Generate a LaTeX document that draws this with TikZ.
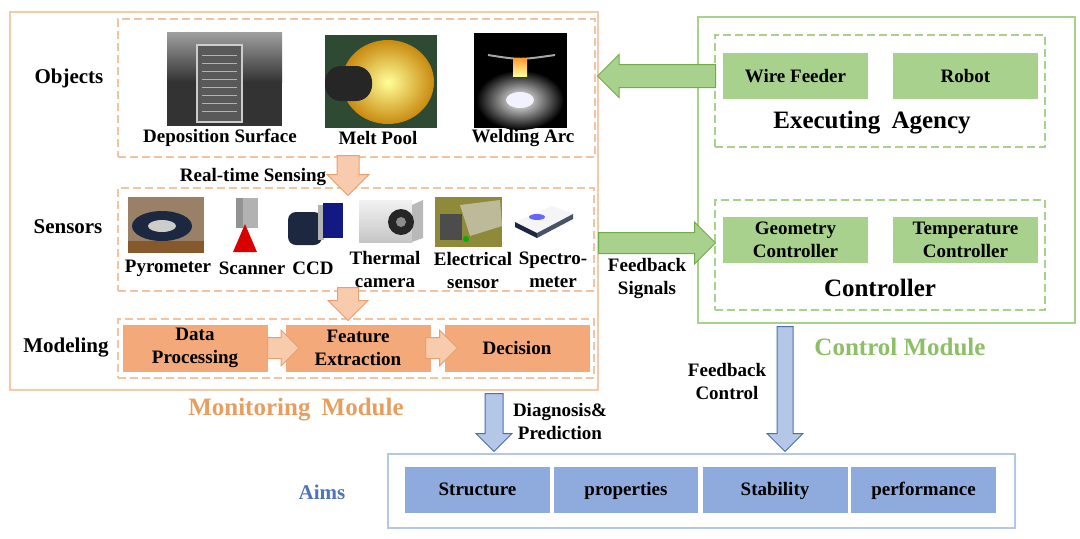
\documentclass[tikz,border=0pt]{standalone}
\usepackage{fontspec}
\setmainfont{Liberation Serif}
\usetikzlibrary{shapes.arrows, fit}
\definecolor{monline}{HTML}{F5C9AA}
\definecolor{mondash}{HTML}{F3C4A2}
\definecolor{monfill}{HTML}{F3A97A}
\definecolor{monarrow}{HTML}{F8CBAD}
\definecolor{monedge}{HTML}{E7A070}
\definecolor{montext}{HTML}{E89E5E}
\definecolor{ctlline}{HTML}{A9D18E}
\definecolor{ctlfill}{HTML}{A9D18E}
\definecolor{ctledge}{HTML}{70AD47}
\definecolor{ctltext}{HTML}{8CBF66}
\definecolor{aimline}{HTML}{B4C7E7}
\definecolor{aimfill}{HTML}{8FAADC}
\definecolor{aimedge}{HTML}{4A6FB5}
\definecolor{aimtext}{HTML}{4F74B8}
\definecolor{meltout}{HTML}{C98A10}
\definecolor{meltbg}{HTML}{2E4A33}
\definecolor{darkblue}{HTML}{1C2740}
\tikzset{
  lbl/.style={font=\fontsize{9.5}{11.5}\selectfont\bfseries, align=center, inner sep=0},
  side/.style={font=\fontsize{10.5}{12}\selectfont\bfseries, inner sep=0},
  title/.style={font=\fontsize{12.5}{14}\selectfont\bfseries, inner sep=0},
  grpbox/.style={dashed, dash pattern=on 4pt off 2pt, line width=0.8pt, inner sep=0},
  modbox/.style={draw=none, inner sep=0, fit={#1}},
  fillbox/.style={lbl, minimum width=72.5pt, minimum height=23.5pt},
  aimbox/.style={fillbox, fill=aimfill, minimum height=23pt, text height=1.6ex, text depth=0.4ex},
  blockarrow/.style={single arrow, anchor=tail, line width=0.5pt}
}

\begin{document}
\begin{tikzpicture}[x=0.5pt, y=-0.5pt]
\useasboundingbox (0,0) rectangle (1080,538);

% monitoring module
\node[modbox={(10,12) (598,390)}, draw=monline, line width=1.3pt] (monitor) {};
\node[modbox={(118,19) (595,157)}, grpbox, draw=mondash] (objects) {};
\node[modbox={(118,188) (594,291)}, grpbox, draw=mondash] (sensors) {};
\node[modbox={(118,319) (594,378)}, grpbox, draw=mondash] (modeling) {};

% control module
\node[modbox={(698,17) (1075,323)}, draw=ctlline, line width=1.3pt] (control) {};
\node[modbox={(715,35) (1045,147)}, grpbox, draw=ctlline] (exec) {};
\node[modbox={(715,200) (1045,310)}, grpbox, draw=ctlline] (ctrl) {};

% aims
\node[modbox={(388,454) (1015,528)}, draw=aimline, line width=1.3pt] (aims) {};

% object pictures
\fill[black!80] (167,32) rectangle (282,126);
\shade[top color=gray!75, bottom color=black!80] (167,32) rectangle (282,82);
\draw[gray!40, line width=1.2pt, fill=black!65] (197,45) rectangle (242,122);
\foreach \y in {55,63,...,115}
  \draw[gray!60] (202,\y) -- (237,\y);
\fill[meltbg] (325,35) rectangle (437,128);
\shade[inner color=yellow!40!white, outer color=meltout] (388,82) ellipse (46 and 42);
\fill[black!85, rounded corners=8pt] (325,66) -- (372,66) -- (372,101) -- (325,101) -- cycle;
\fill[black] (474,33) rectangle (567,128);
\shade[inner color=white, outer color=black] (520,100) ellipse (44 and 30);
\fill[blue!5] (520,100) ellipse (14 and 8);
\draw[gray!70, line width=1pt] (488,55) .. controls (520,60) .. (555,55);
\shade[top color=orange!80, bottom color=yellow!40] (513,58) rectangle (527,76);

% sensor pictures
\fill[brown!40!gray] (128,197) rectangle (204,253);
\fill[brown!70!black] (128,241) rectangle (204,253);
\fill[darkblue] (162,226) ellipse (30 and 15);
\fill[gray!40] (162,226) ellipse (14 and 6);
\fill[gray!60] (236,198) rectangle (258,228);
\fill[gray!85] (236,198) rectangle (243,228);
\fill[red!85!black] (245,224) -- (257,252) -- (233,252) -- cycle;
\fill[darkblue, rounded corners=4pt] (288,212) rectangle (322,245);
\fill[gray!60] (318,205) rectangle (324,240);
\fill[blue!35!darkblue] (323,203) rectangle (343,238);
\shade[top color=gray!10, bottom color=gray!45] (359,200) rectangle (412,242);
\fill[gray!55] (412,205) -- (423,200) -- (423,238) -- (412,242) -- cycle;
\fill[black!85] (401,222) circle (13);
\fill[black!45] (401,222) circle (5);
\fill[olive!60!gray] (435,197) rectangle (502,247);
\fill[olive!30!gray!60] (460,205) -- (500,200) -- (502,226) -- (470,236) -- cycle;
\fill[black!70] (440,214) rectangle (462,240);
\fill[green!70!black] (466,239) circle (3);
\fill[gray!8] (515,222) -- (552,206) -- (573,214) -- (537,233) -- cycle;
\fill[darkblue] (515,222) -- (537,233) -- (537,238) -- (515,227) -- cycle;
\fill[darkblue!80] (537,233) -- (573,214) -- (573,219) -- (537,238) -- cycle;
\fill[blue!60] (537,217) ellipse (8 and 3);

% texts of the monitoring module
\node[side] (objlbl) at (69,78) {Objects};
\node[side] (senlbl) at (68,227) {Sensors};
\node[side] (modlbl) at (66,348) {Modeling};
\node[lbl] (depo) at (220,138) {Deposition Surface};
\node[lbl] (melt) at (378,138) {Melt Pool};
\node[lbl] (arc) at (523,138) {Welding Arc};
\node[lbl] (rts) at (253,177) {Real-time Sensing};
\node[lbl] (pyro) at (168,268) {Pyrometer};
\node[lbl] (scan) at (252,268) {Scanner};
\node[lbl] (ccd) at (313,268) {CCD};
\node[lbl] (therm) at (385,269) {Thermal\\camera};
\node[lbl] (elec) at (473,270) {Electrical\\sensor};
\node[lbl] (spec) at (553,270) {Spectro-\\meter};
\node[fillbox, fill=monfill] (dataproc) at (195,348) {Data\\Processing};
\node[fillbox, fill=monfill] (featext) at (358,348) {Feature\\Extraction};
\node[fillbox, fill=monfill] (decision) at (517,348) {Decision};
\node[title, text=montext] (monlbl) at (296,410) {Monitoring\hspace{0.45em}Module};

% texts of the control module
\node[fillbox, fill=ctlfill, minimum height=23pt] (wire) at (795.5,76) {Wire Feeder};
\node[fillbox, fill=ctlfill, minimum height=23pt] (robot) at (965.5,76) {Robot};
\node[title] (execlbl) at (872,123) {Executing\hspace{0.45em}Agency};
\node[fillbox, fill=ctlfill, minimum height=23pt] (geom) at (795.5,240) {Geometry\\Controller};
\node[fillbox, fill=ctlfill, minimum height=23pt] (temp) at (965.5,240) {Temperature\\Controller};
\node[title] (ctrllbl) at (880,288) {Controller};
\node[title, text=ctltext] (ctllbl) at (900,347) {Control Module};
\node[lbl] (fbsig) at (647,278) {Feedback\\Signals};
\node[lbl] (fbctl) at (727,381) {Feedback\\Control};
\node[lbl] (diag) at (560,421) {Diagnosis\&\\Prediction};

% aims
\node[side, text=aimtext] (aimlbl) at (322,492) {Aims};
\node[aimbox] (struct) at (477.5,490) {Structure};
\node[aimbox, minimum width=72pt] (prop) at (626,490) {properties};
\node[aimbox] (stab) at (775,490) {Stability};
\node[aimbox] (perf) at (923.5,490) {performance};

% block arrows
\node[blockarrow, fill=monarrow, draw=monedge, shape border rotate=270, inner sep=5.25pt, minimum height=20pt, minimum width=20.5pt, single arrow head extend=5pt] (sense) at (348,155) {};
\node[blockarrow, fill=monarrow, draw=monedge, shape border rotate=270, inner sep=5pt, minimum height=16.5pt, minimum width=19.5pt, single arrow head extend=4.75pt] (tomodel) at (348,287) {};
\node[blockarrow, fill=monarrow, draw=monedge, inner sep=5pt, minimum height=15.5pt, minimum width=17.5pt, single arrow head extend=3.75pt] (toext) at (267,348) {};
\node[blockarrow, fill=monarrow, draw=monedge, inner sep=5pt, minimum height=16pt, minimum width=17.5pt, single arrow head extend=3.75pt] (todec) at (425,348) {};
\node[blockarrow, fill=ctlfill, draw=ctledge, shape border rotate=180, inner sep=5.5pt, minimum height=59pt, minimum width=21pt, single arrow head extend=5pt] (actuate) at (716,76) {};
\node[blockarrow, fill=ctlfill, draw=ctledge, inner sep=5pt, minimum height=58.5pt, minimum width=20.5pt, single arrow head extend=5.25pt] (feedback) at (598,243) {};
\node[blockarrow, fill=aimline, draw=aimedge, shape border rotate=270, inner sep=4.25pt, minimum height=29pt, minimum width=17.5pt, single arrow head extend=4.5pt] (diagarrow) at (494,393) {};
\node[blockarrow, fill=aimline, draw=aimedge, shape border rotate=270, inner sep=3.75pt, minimum height=62.5pt, minimum width=17.5pt, single arrow head extend=5pt] (ctlarrow) at (785,326) {};
\end{tikzpicture}
\end{document}
